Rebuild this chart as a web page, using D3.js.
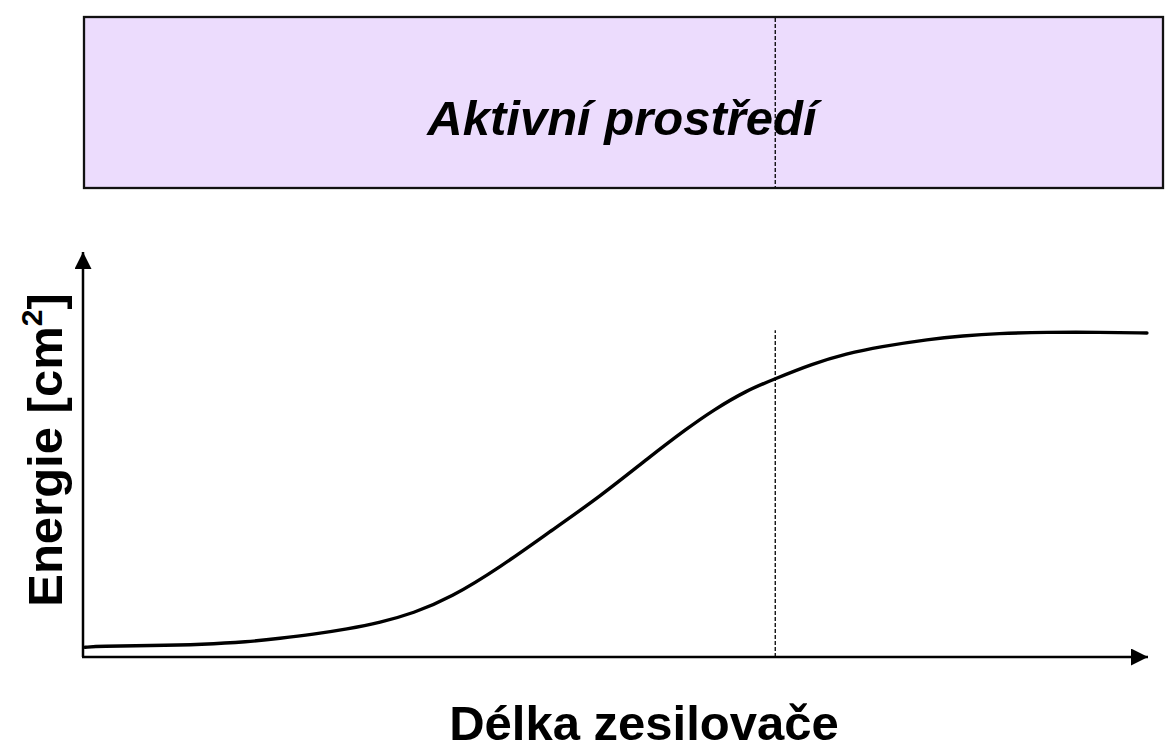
<!DOCTYPE html>
<html>
<head>
<meta charset="utf-8">
<script src="https://cdn.jsdelivr.net/npm/d3@7/dist/d3.min.js"></script>
<style>
html,body{margin:0;padding:0;background:#fff;}
svg{display:block;font-family:"Liberation Sans",Arial,sans-serif;}
</style>
</head>
<body>
<svg id="chart" width="1168" height="751"></svg>
<script>
// Data: amplifier length (arbitrary units) vs. energy (arbitrary units)
const lengthValues = [0.2, 1.6, 6.3, 11.3, 15.4, 18.5, 21.6, 24.8, 27.9, 31.0, 34.5, 39.2, 43.8, 48.5, 53.2, 56.7, 59.2, 62.3, 64.9, 68.5, 71.7, 74.8, 79.5, 82.6, 85.8, 90.5, 95.5, 99.9];
const energyValues = [2.4, 2.7, 2.8, 3.1, 3.7, 4.6, 5.6, 6.9, 8.5, 10.8, 14.6, 22.2, 30.9, 39.5, 49.4, 56.4, 61.0, 65.8, 68.6, 72.4, 74.9, 76.6, 78.5, 79.3, 79.9, 80.2, 80.2, 80.0];
const markerLength = [65];     // end of active medium (dashed line)
const markerEnergy = [80.7];   // top of dashed line
const titleText = "Aktivní prostředí";
const xLabel = "Délka zesilovače";
const yLabelMain = "Energie [cm";
const yLabelSup = "2";
const yLabelEnd = "]";

const svg = d3.select("#chart");
const x = d3.scaleLinear().domain([0, 100]).range([83, 1148]);
const y = d3.scaleLinear().domain([0, 100]).range([657, 252]);

// Arrow marker
const defs = svg.append("defs");
defs.append("marker")
  .attr("id", "arrow")
  .attr("viewBox", "0 0 17 17")
  .attr("refX", 17).attr("refY", 8.5)
  .attr("markerUnits", "userSpaceOnUse")
  .attr("markerWidth", 17).attr("markerHeight", 17)
  .attr("orient", "auto")
  .append("path").attr("d", "M0,0 L17,8.5 L0,17 Z").attr("fill", "#000");

// Top box (active medium)
const boxTop = 17, boxBottom = 188;
svg.append("rect")
  .attr("x", 84).attr("y", boxTop)
  .attr("width", 1079).attr("height", boxBottom - boxTop)
  .attr("fill", "#ecdcfd")
  .attr("stroke", "#111").attr("stroke-width", 2.3);

svg.append("text")
  .attr("x", 622).attr("y", 135)
  .attr("text-anchor", "middle")
  .attr("font-size", 49).attr("font-weight", "bold").attr("font-style", "italic")
  .attr("fill", "#000")
  .text(titleText);

svg.selectAll(".boxdash").data(markerLength).enter().append("line")
  .attr("class", "boxdash")
  .attr("x1", d => x(d)).attr("x2", d => x(d))
  .attr("y1", boxTop + 1).attr("y2", boxBottom - 1)
  .attr("stroke", "#000").attr("stroke-width", 1.3)
  .attr("stroke-dasharray", "4,2");

// Axes with arrows
svg.append("line")
  .attr("x1", x(0)).attr("y1", y(0)).attr("x2", x(0)).attr("y2", y(100))
  .attr("stroke", "#000").attr("stroke-width", 2.5)
  .attr("marker-end", "url(#arrow)");
svg.append("line")
  .attr("x1", x(0) - 1).attr("y1", y(0)).attr("x2", x(100)).attr("y2", y(0))
  .attr("stroke", "#000").attr("stroke-width", 2.5)
  .attr("marker-end", "url(#arrow)");

// Dashed marker line in plot
svg.selectAll(".plotdash").data(markerLength).enter().append("line")
  .attr("class", "plotdash")
  .attr("x1", d => x(d)).attr("x2", d => x(d))
  .attr("y1", y(0)).attr("y2", y(markerEnergy[0]))
  .attr("stroke", "#000").attr("stroke-width", 1.3)
  .attr("stroke-dasharray", "4,2");

// Curve
const pts = lengthValues.map((v, i) => [v, energyValues[i]]);
const line = d3.line().x(d => x(d[0])).y(d => y(d[1])).curve(d3.curveBasis);
svg.append("path")
  .datum(pts)
  .attr("d", line)
  .attr("fill", "none")
  .attr("stroke", "#000").attr("stroke-width", 3.4)
  .attr("stroke-linecap", "round").attr("stroke-linejoin", "round");

// Axis labels
svg.append("text")
  .attr("x", 644).attr("y", 740)
  .attr("text-anchor", "middle")
  .attr("font-size", 49).attr("font-weight", "bold")
  .attr("fill", "#000")
  .text(xLabel);

const yl = svg.append("text")
  .attr("transform", "translate(62,450) rotate(-90)")
  .attr("text-anchor", "middle")
  .attr("font-size", 49).attr("font-weight", "bold")
  .attr("fill", "#000");
yl.append("tspan").text(yLabelMain);
yl.append("tspan").attr("font-size", 30).attr("dy", -20).text(yLabelSup);
yl.append("tspan").attr("dy", 20).text(yLabelEnd);
</script>
</body>
</html>
